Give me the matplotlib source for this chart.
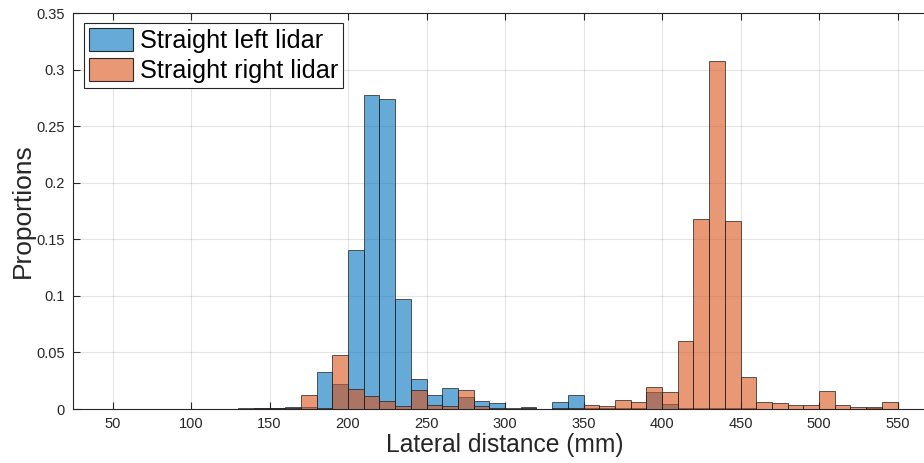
import numpy as np
import matplotlib
matplotlib.use("Agg")
import matplotlib.pyplot as plt
from matplotlib.patches import Patch

# Histogram bins: left edges (mm) and common width
bin_left = list(range(50, 550, 10))
bin_width = 10

# Proportion of samples per bin
left_lidar = [
    0.0, 0.0003, 0.0003, 0.0, 0.0, 0.0002, 0.0002, 0.0004, 0.0006, 0.0008,
    0.0012, 0.0016, 0.0019, 0.0329, 0.0225, 0.1405, 0.2775, 0.2743, 0.0971, 0.0267,
    0.0124, 0.0184, 0.0104, 0.0073, 0.0055, 0.0003, 0.0015, 0.0003, 0.0066, 0.0125,
    0.0010, 0.0005, 0.0005, 0.0005, 0.0146, 0.0046, 0.0010, 0.0010, 0.0010, 0.0010,
    0.0005, 0.0004, 0.0004, 0.0003, 0.0003, 0.0003, 0.0003, 0.0004, 0.0008, 0.0003,
]
right_lidar = [
    0.0, 0.0003, 0.0, 0.0, 0.0, 0.0, 0.0003, 0.0, 0.0004, 0.0005,
    0.0005, 0.0008, 0.0128, 0.0005, 0.0476, 0.0178, 0.0118, 0.0074, 0.0024, 0.0171,
    0.0033, 0.0028, 0.0171, 0.0028, 0.0008, 0.0012, 0.0005, 0.0003, 0.0008, 0.0012,
    0.0037, 0.0028, 0.0081, 0.0066, 0.0193, 0.0146, 0.0597, 0.1675, 0.3080, 0.1660,
    0.0287, 0.0066, 0.0049, 0.0034, 0.0034, 0.0161, 0.0037, 0.0019, 0.0016, 0.0066,
]

x_ticks = list(range(50, 551, 50))
y_ticks = [0, 0.05, 0.1, 0.15, 0.2, 0.25, 0.3, 0.35]
y_tick_labels = ["0", "0.05", "0.1", "0.15", "0.2", "0.25", "0.3", "0.35"]

plt.rcParams["font.family"] = ["Liberation Sans", "DejaVu Sans"]

blue = (0.0, 0.447, 0.741)
orange = (0.85, 0.325, 0.098)
axis_col = (0.15, 0.15, 0.15)
edge = (0.1, 0.1, 0.1, 0.7)

fig = plt.figure(figsize=(9.24, 4.63), dpi=100)
ax = fig.add_axes([0.0793, 0.1166, 0.9345, 0.8553])

ax.bar(bin_left, left_lidar, width=bin_width, align="edge",
       facecolor=blue + (0.6,), edgecolor=edge, linewidth=0.7, zorder=2)
ax.bar(bin_left, right_lidar, width=bin_width, align="edge",
       facecolor=orange + (0.6,), edgecolor=edge, linewidth=0.7, zorder=3)

ax.set_xlim(25, 575)
ax.set_ylim(0, 0.35)
ax.set_xticks(x_ticks)
ax.set_yticks(y_ticks)
ax.set_yticklabels(y_tick_labels)

ax.grid(True, color=axis_col, alpha=0.12, linewidth=0.8, zorder=0)
ax.set_axisbelow(True)
ax.tick_params(direction="in", length=5, width=0.8, colors=axis_col,
               labelsize=10.5, top=True, right=False, pad=6)
ax.spines["right"].set_visible(False)
for s in ax.spines.values():
    s.set_color(axis_col)
    s.set_linewidth(0.8)

ax.set_xlabel("Lateral distance (mm)", fontsize=17.7, color=axis_col, labelpad=1)
ax.set_ylabel("Proportions", fontsize=19, color=axis_col, labelpad=1)

handles = [
    Patch(facecolor=blue + (0.6,), edgecolor=(0, 0, 0, 0.8), linewidth=0.8,
          label="Straight left lidar"),
    Patch(facecolor=orange + (0.6,), edgecolor=(0, 0, 0, 0.8), linewidth=0.8,
          label="Straight right lidar"),
]
leg = ax.legend(handles=handles, loc="upper left", bbox_to_anchor=(0.0125, 0.975),
                fontsize=18.2, frameon=True, fancybox=False, borderpad=0.2,
                handlelength=1.75, handleheight=1.0, handletextpad=0.25,
                labelspacing=0.2, borderaxespad=0.0)
leg.get_frame().set_edgecolor(axis_col)
leg.get_frame().set_linewidth(0.8)
leg.get_frame().set_alpha(1)

fig.savefig("out.png", dpi=100)
